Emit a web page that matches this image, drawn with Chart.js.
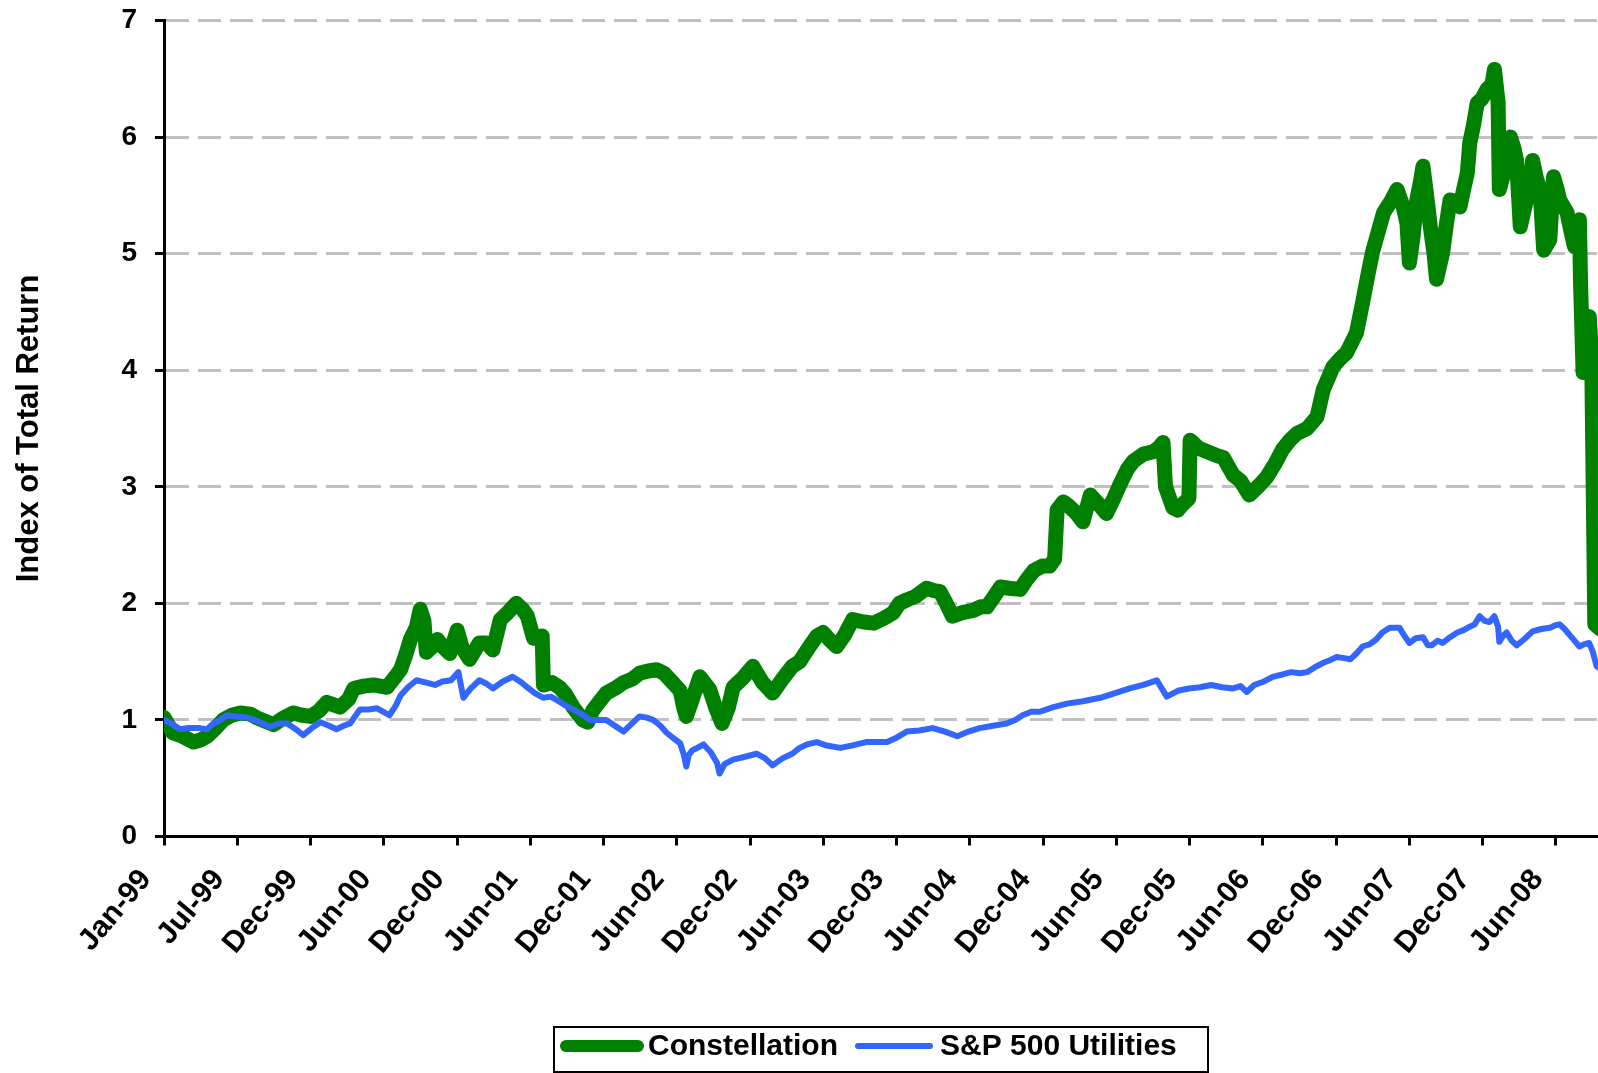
<!DOCTYPE html>
<html>
<head>
<meta charset="utf-8">
<script src="https://cdn.jsdelivr.net/npm/chart.js@4.4.1/dist/chart.umd.min.js"></script>
<style>
  html, body { margin: 0; padding: 0; background: #fff; overflow: hidden; }
</style>
</head>
<body>
<canvas id="my_graph" width="1598" height="1073"></canvas>
<script>
// x values are months since Jan-99
let tick_labels = ['Jan-99', 'Jul-99', 'Dec-99', 'Jun-00', 'Dec-00', 'Jun-01', 'Dec-01', 'Jun-02', 'Dec-02', 'Jun-03',
    'Dec-03', 'Jun-04', 'Dec-04', 'Jun-05', 'Dec-05', 'Jun-06', 'Dec-06', 'Jun-07', 'Dec-07', 'Jun-08'];
let tick_step = 113 / 19;
let x_max = 116.41;

let con_months = [0.0, 0.4, 0.7, 1.5, 2.4, 3.0, 3.5, 4.2, 4.8, 5.5, 6.2, 7.0, 7.5, 8.2, 8.9, 9.6, 10.5, 11.2, 11.9, 12.6,
    13.2, 14.3, 15.0, 15.4, 16.2, 17.0, 18.1, 18.7, 19.2, 19.6, 20.0, 20.5, 20.8, 21.1, 21.3, 21.7, 22.2, 22.7, 23.2, 23.8,
    24.2, 24.8, 25.6, 26.2, 26.7, 27.3, 27.9, 28.6, 29.1, 29.5, 30.0, 30.7, 30.8, 31.5, 32.1, 32.6, 33.2, 34.0, 34.4, 34.8,
    35.3, 35.9, 36.6, 37.3, 38.0, 38.6, 39.3, 40.0, 40.6, 41.3, 41.9, 42.2, 42.4, 42.8, 43.5, 44.3, 44.8, 45.3, 45.8, 46.2,
    47.0, 47.8, 48.6, 49.4, 50.2, 51.0, 51.6, 52.4, 53.0, 53.5, 54.1, 54.6, 55.2, 55.9, 56.8, 57.6, 58.4, 59.2, 59.7, 60.3,
    61.0, 61.9, 62.5, 63.0, 63.5, 64.0, 64.8, 65.7, 66.3, 66.8, 67.4, 67.9, 68.6, 69.5, 70.0, 70.6, 71.3, 71.9, 72.3, 72.5,
    73.0, 73.4, 74.0, 74.6, 75.2, 75.8, 76.5, 77.1, 77.6, 78.2, 78.7, 79.5, 80.3, 80.8, 81.1, 81.3, 81.9, 82.3, 82.7, 83.2,
    83.3, 84.0, 84.7, 85.4, 86.0, 86.8, 87.4, 88.1, 88.8, 89.5, 90.2, 90.8, 91.4, 92.0, 92.8, 93.6, 94.1, 94.9, 95.5, 96.0,
    96.8, 97.3, 97.7, 98.1, 98.6, 99.0, 99.6, 100.1, 100.6, 100.9, 101.1, 101.4, 101.7, 102.0, 102.2, 102.5, 102.8, 103.1, 103.3, 103.8,
    104.1, 104.4, 104.8, 105.2, 105.5, 105.8, 106.0, 106.3, 106.6, 107.0, 107.4, 107.8, 108.0, 108.3, 108.4, 108.8, 109.3, 109.6, 109.8, 110.1,
    110.6, 110.9, 111.1, 111.4, 111.7, 112.0, 112.5, 112.8, 113.1, 113.3, 113.9, 114.2, 114.5, 114.9, 115.0, 115.2, 115.5, 115.7, 115.9, 116.15,
    116.6];
let con_values = [1.02, 0.95, 0.89, 0.86, 0.81, 0.83, 0.86, 0.93, 1.00, 1.04, 1.06, 1.05, 1.02, 0.99, 0.96, 1.01, 1.06, 1.04, 1.03, 1.08,
    1.15, 1.11, 1.18, 1.27, 1.29, 1.30, 1.28, 1.36, 1.43, 1.55, 1.69, 1.80, 1.95, 1.85, 1.58, 1.62, 1.69, 1.62, 1.57, 1.77,
    1.62, 1.52, 1.66, 1.66, 1.60, 1.86, 1.92, 2.00, 1.95, 1.89, 1.70, 1.72, 1.30, 1.32, 1.28, 1.22, 1.11, 1.00, 0.98, 1.08,
    1.15, 1.23, 1.27, 1.32, 1.35, 1.40, 1.42, 1.43, 1.40, 1.32, 1.25, 1.10, 1.03, 1.15, 1.37, 1.26, 1.10, 0.97, 1.10, 1.28,
    1.36, 1.46, 1.32, 1.23, 1.35, 1.46, 1.50, 1.63, 1.72, 1.75, 1.68, 1.63, 1.72, 1.86, 1.84, 1.83, 1.87, 1.92, 2.00, 2.03,
    2.06, 2.13, 2.11, 2.10, 2.00, 1.89, 1.92, 1.94, 1.97, 1.97, 2.06, 2.14, 2.13, 2.12, 2.20, 2.28, 2.32, 2.32, 2.38, 2.80,
    2.87, 2.84, 2.78, 2.70, 2.93, 2.86, 2.77, 2.90, 3.02, 3.15, 3.22, 3.28, 3.30, 3.34, 3.38, 3.00, 2.82, 2.80, 2.85, 2.90,
    3.40, 3.33, 3.30, 3.27, 3.25, 3.10, 3.05, 2.93, 3.00, 3.08, 3.20, 3.32, 3.40, 3.46, 3.50, 3.60, 3.83, 4.03, 4.10, 4.15,
    4.32, 4.58, 4.80, 5.01, 5.20, 5.35, 5.45, 5.55, 5.40, 5.26, 4.92, 5.15, 5.46, 5.62, 5.75, 5.50, 5.23, 5.00, 4.78, 5.01,
    5.25, 5.46, 5.45, 5.40, 5.55, 5.69, 5.95, 6.10, 6.29, 6.33, 6.41, 6.45, 6.58, 6.30, 5.55, 5.70, 6.00, 5.90, 5.80, 5.23,
    5.46, 5.60, 5.80, 5.65, 5.55, 5.03, 5.12, 5.66, 5.55, 5.46, 5.35, 5.20, 5.06, 5.29, 4.72, 3.98, 4.30, 4.46, 4.10, 1.82,
    1.78];

let spx_months = [0.0, 0.6, 1.3, 2.0, 2.9, 3.5, 4.0, 4.6, 5.1, 5.9, 6.7, 7.3, 7.8, 8.6, 9.3, 10.0, 10.7, 11.3, 12.0, 12.7,
    13.4, 14.0, 14.6, 15.1, 15.9, 16.6, 17.3, 18.3, 18.8, 19.2, 19.8, 20.5, 21.3, 22.0, 22.6, 23.3, 23.9, 24.3, 24.9, 25.6,
    26.2, 26.7, 27.5, 28.3, 28.9, 29.5, 30.1, 30.8, 31.4, 31.9, 32.5, 33.2, 33.9, 34.6, 35.3, 35.9, 36.6, 37.3, 38.0, 38.6,
    39.2, 39.7, 40.3, 40.8, 41.4, 41.9, 42.2, 42.4, 42.6, 42.9, 43.3, 43.8, 44.4, 44.9, 45.1, 45.5, 46.2, 47.0, 48.1, 48.8,
    49.4, 50.2, 51.0, 51.6, 52.2, 53.0, 53.8, 54.9, 55.8, 57.0, 57.8, 58.7, 59.5, 60.3, 61.3, 62.4, 63.4, 64.4, 65.3, 66.2,
    67.3, 68.4, 69.1, 69.7, 70.4, 71.1, 72.2, 73.3, 74.6, 76.0, 77.2, 78.4, 79.5, 80.6, 81.0, 81.4, 82.3, 83.2, 84.1, 85.0,
    85.9, 86.8, 87.4, 87.9, 88.5, 89.3, 90.0, 90.8, 91.5, 92.2, 92.8, 93.4, 94.1, 94.6, 95.2, 95.8, 96.3, 96.8, 97.3, 97.9,
    98.4, 98.9, 99.5, 100.3, 100.7, 101.1, 101.6, 102.2, 102.6, 102.9, 103.4, 103.8, 104.4, 105.0, 105.5, 106.0, 106.4, 106.8, 107.2, 107.6,
    108.0, 108.3, 108.4, 108.7, 109.0, 109.4, 109.8, 110.4, 111.1, 111.8, 112.5, 112.9, 113.3, 113.7, 114.1, 114.5, 114.9, 115.3, 115.7, 116.0,
    116.3, 116.6];
let spx_values = [1.00, 0.97, 0.92, 0.93, 0.93, 0.92, 0.97, 1.00, 1.04, 1.03, 1.02, 1.00, 0.98, 0.94, 0.97, 0.97, 0.92, 0.87, 0.93, 0.98,
    0.95, 0.92, 0.95, 0.97, 1.09, 1.09, 1.10, 1.04, 1.12, 1.21, 1.28, 1.34, 1.32, 1.30, 1.33, 1.34, 1.41, 1.19, 1.27, 1.34,
    1.31, 1.27, 1.33, 1.37, 1.33, 1.28, 1.23, 1.19, 1.20, 1.17, 1.13, 1.09, 1.05, 1.00, 1.00, 1.00, 0.95, 0.90, 0.97, 1.03,
    1.02, 1.00, 0.95, 0.89, 0.84, 0.80, 0.70, 0.60, 0.70, 0.74, 0.76, 0.79, 0.72, 0.63, 0.54, 0.62, 0.66, 0.68, 0.71, 0.67,
    0.61, 0.67, 0.71, 0.76, 0.79, 0.81, 0.78, 0.76, 0.78, 0.81, 0.81, 0.81, 0.85, 0.90, 0.91, 0.93, 0.90, 0.86, 0.90, 0.93,
    0.95, 0.97, 1.00, 1.04, 1.07, 1.07, 1.11, 1.14, 1.16, 1.19, 1.23, 1.27, 1.30, 1.34, 1.27, 1.20, 1.25, 1.27, 1.28, 1.30,
    1.28, 1.27, 1.29, 1.24, 1.30, 1.33, 1.37, 1.39, 1.41, 1.40, 1.41, 1.45, 1.49, 1.51, 1.54, 1.53, 1.52, 1.57, 1.63, 1.65,
    1.69, 1.75, 1.79, 1.79, 1.72, 1.66, 1.70, 1.71, 1.64, 1.64, 1.68, 1.66, 1.71, 1.75, 1.77, 1.80, 1.82, 1.89, 1.85, 1.84,
    1.89, 1.80, 1.67, 1.72, 1.75, 1.68, 1.64, 1.69, 1.76, 1.78, 1.79, 1.81, 1.82, 1.78, 1.73, 1.68, 1.63, 1.65, 1.66, 1.58,
    1.46, 1.44];

let font_family = 'Arial, "Liberation Sans", sans-serif';

let to_points = (months, values) => months.map((m, i) => ({ 'x': m, 'y': values[i] }));

// legend drawn as a framed box under the plot, centred on the chart area
const legend_box = {
    id: 'legend_box',
    afterDraw(chart) {
        const ctx = chart.ctx;
        const area = chart.chartArea;
        const cx = (area.left + area.right) / 2;
        const box_w = 654;
        const left = cx - box_w / 2;
        const top = 1027;
        const mid_y = 1046;
        ctx.save();
        ctx.strokeStyle = '#000';
        ctx.lineWidth = 2;
        ctx.strokeRect(left, top, box_w, 45);
        ctx.font = 'bold 30px ' + font_family;
        ctx.textBaseline = 'middle';
        ctx.textAlign = 'left';
        let x = left + 12;
        chart.data.datasets.forEach(dataset => {
            const line_len = 72;
            ctx.strokeStyle = dataset.borderColor;
            ctx.lineWidth = Math.min(dataset.borderWidth, 12);
            ctx.lineCap = 'round';
            ctx.beginPath();
            ctx.moveTo(x, mid_y);
            ctx.lineTo(x + line_len, mid_y);
            ctx.stroke();
            x += line_len + 10;
            ctx.fillStyle = '#000';
            ctx.fillText(dataset.label, x, mid_y + 1);
            x += ctx.measureText(dataset.label).width + 20;
        });
        ctx.restore();
    }
};

var ctx = document.getElementById('my_graph').getContext('2d');
var my_graph = new Chart(ctx, {
    type: 'line',
    data: {
        datasets: [{
                label: 'Constellation',
                data: to_points(con_months, con_values),
                borderColor: '#008000',
                borderWidth: 15,
                borderCapStyle: 'round',
                borderJoinStyle: 'round',
                order: 1
            },
            {
                label: 'S&P 500 Utilities',
                data: to_points(spx_months, spx_values),
                borderColor: '#3366ff',
                borderWidth: 6,
                borderCapStyle: 'round',
                borderJoinStyle: 'round',
                order: 0
            }
        ]
    },
    plugins: [legend_box],
    options: {
        responsive: false,
        animation: false,
        layout: {
            padding: { top: 20.5, right: 0, bottom: 0, left: 0 }
        },
        elements: {
            point: { radius: 0, hoverRadius: 0 },
            line: { tension: 0, fill: false }
        },
        plugins: {
            legend: { display: false },
            tooltip: { enabled: false }
        },
        scales: {
            x: {
                type: 'linear',
                min: 0,
                max: x_max,
                afterBuildTicks: axis => {
                    axis.ticks = tick_labels.map((t, i) => ({ value: i * tick_step }));
                },
                afterFit: axis => {
                    axis.height = 236.5;
                    axis.paddingLeft = 0;
                    axis.paddingRight = 0;
                },
                ticks: {
                    autoSkip: false,
                    minRotation: 50,
                    maxRotation: 50,
                    padding: 17,
                    labelOffset: -18,
                    color: '#000',
                    font: { family: font_family, size: 30, weight: 'bold' },
                    callback: (value, index) => tick_labels[index]
                },
                grid: {
                    drawOnChartArea: false,
                    drawTicks: true,
                    tickLength: 9,
                    tickWidth: 3,
                    tickColor: '#000'
                },
                border: { color: '#000', width: 3 }
            },
            y: {
                min: 0,
                max: 7,
                afterFit: axis => {
                    axis.width = 164;
                    axis.paddingTop = 0;
                    axis.paddingBottom = 0;
                },
                ticks: {
                    stepSize: 1,
                    padding: 18,
                    color: '#000',
                    font: { family: font_family, size: 28, weight: 'bold' }
                },
                grid: {
                    color: '#c0c0c0',
                    lineWidth: 3,
                    tickLength: 9,
                    tickWidth: 3,
                    tickColor: '#000'
                },
                border: { color: '#000', width: 3, dash: [23, 9] },
                title: {
                    display: true,
                    text: 'Index of Total Return',
                    color: '#000',
                    font: { family: font_family, size: 31, weight: 'bold' },
                    padding: { top: 11, bottom: 0 }
                }
            }
        }
    }
});
</script>
</body>
</html>
